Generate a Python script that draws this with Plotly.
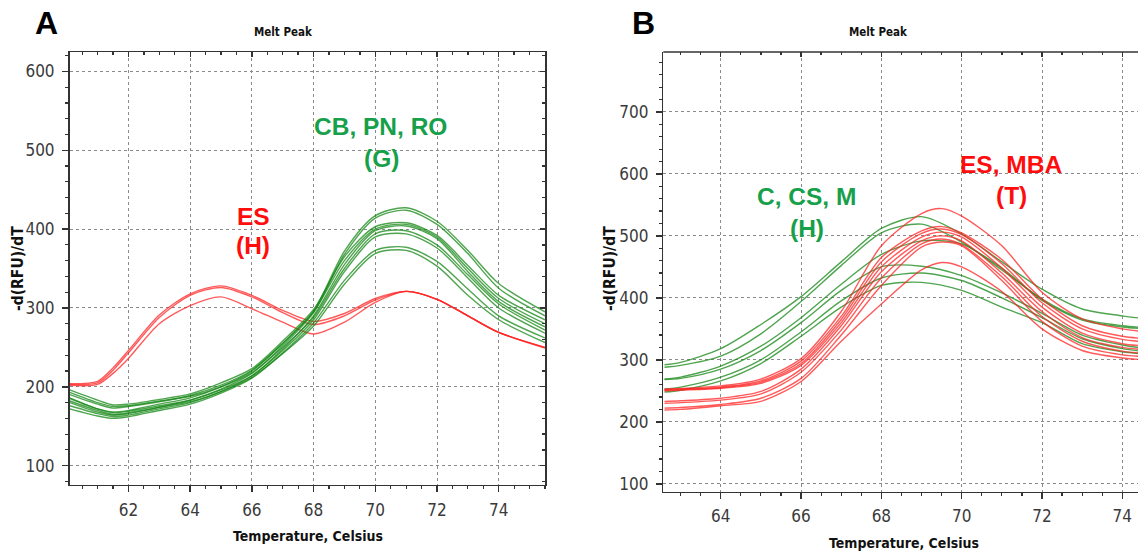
import plotly.graph_objects as go

# ---------------- data ----------------
TEMP_A = [60.1, 61.0, 61.5, 62.0, 63.0, 64.0, 65.0, 66.0, 67.0, 68.0, 69.0, 70.0, 71.0, 72.0, 73.0, 74.0, 75.5]
RED_A = [
    [204, 207, 224, 246, 291, 318, 328, 316, 297, 283, 293, 312, 321, 311, 290, 269, 250],
    [203, 205, 221, 243, 288, 316, 326, 314, 294, 279, 290, 310, 321, 311, 290, 269, 250],
    [202, 203, 217, 236, 280, 303, 314, 299, 282, 267, 282, 307, 321, 311, 290, 269, 249],
]
GREEN_A = [
    [185, 172, 168, 170, 178, 186, 200, 220, 255, 296, 372, 417, 427, 410, 373, 331, 295],
    [180, 168, 164, 166, 174, 183, 197, 217, 252, 294, 368, 414, 424, 406, 369, 325, 290],
    [196, 183, 177, 178, 184, 191, 205, 223, 258, 298, 365, 403, 408, 392, 354, 316, 285],
    [190, 178, 173, 175, 181, 189, 202, 221, 255, 295, 360, 400, 406, 390, 350, 312, 280],
    [176, 166, 162, 164, 172, 180, 194, 214, 248, 290, 355, 398, 404, 388, 346, 308, 276],
    [193, 180, 175, 176, 182, 188, 200, 218, 250, 288, 350, 394, 398, 380, 342, 305, 272],
    [186, 172, 167, 169, 176, 183, 196, 214, 246, 285, 346, 390, 394, 376, 338, 300, 268],
    [172, 163, 160, 162, 170, 178, 192, 211, 243, 281, 335, 373, 377, 359, 324, 290, 262],
    [182, 170, 165, 167, 174, 181, 194, 212, 242, 277, 330, 369, 373, 353, 316, 285, 256],
]

TEMP_B_GREEN = [62.6, 63.0, 64.0, 65.0, 66.0, 67.0, 68.0, 69.0, 70.0, 71.0, 72.0, 73.0, 74.0, 74.6]
GREEN_B = [
    [292, 296, 318, 357, 402, 458, 512, 531, 503, 458, 414, 382, 371, 366],
    [288, 291, 306, 342, 394, 452, 505, 519, 490, 445, 398, 366, 355, 352],
    [269, 272, 290, 322, 368, 422, 470, 492, 487, 448, 396, 364, 353, 350],
    [268, 270, 285, 315, 360, 412, 450, 451, 436, 408, 375, 340, 324, 318],
    [253, 256, 272, 300, 345, 395, 432, 440, 428, 400, 368, 334, 318, 313],
    [248, 251, 266, 294, 338, 385, 420, 425, 412, 385, 360, 326, 313, 309],
]
TEMP_B_RED = [62.6, 63.0, 64.0, 65.0, 66.0, 67.0, 68.0, 69.0, 69.5, 70.0, 71.0, 72.0, 73.0, 74.0, 74.6]
RED_B = [
    [253, 254, 258, 269, 302, 378, 484, 536, 544, 532, 484, 409, 366, 350, 345],
    [252, 253, 256, 266, 298, 370, 465, 508, 515, 505, 462, 398, 355, 338, 334],
    [251, 252, 255, 264, 294, 365, 458, 504, 511, 502, 455, 392, 350, 333, 329],
    [250, 251, 254, 262, 291, 360, 450, 498, 506, 498, 448, 385, 343, 326, 322],
    [233, 234, 238, 249, 285, 355, 442, 492, 500, 492, 440, 378, 336, 320, 316],
    [230, 231, 235, 245, 280, 348, 432, 487, 495, 486, 434, 370, 330, 314, 310],
    [222, 223, 228, 238, 270, 340, 420, 482, 490, 484, 428, 362, 322, 308, 305],
    [219, 220, 226, 233, 265, 330, 390, 445, 457, 450, 410, 350, 315, 303, 300],
]

PANEL_LABELS = ["A", "B"]
TITLE = "Melt Peak"
X_TITLE = "Temperature, Celsius"
Y_TITLE = "-d(RFU)/dT"

# ---------------- style ----------------
W, H = 1138, 558
NARROW = "Liberation Sans Narrow, DejaVu Sans Condensed, Arial Narrow, sans-serif"
ARIAL = "Liberation Sans, Arial, sans-serif"
GREEN_LINE = "rgba(20,135,20,0.75)"
RED_LINE = "rgba(255,35,35,0.75)"
GREEN_TEXT = "#17a04a"
RED_TEXT = "#ff0d0d"
AXIS_COLOR = "#333333"


def px(x):
    return x / W


def py(y):
    return 1 - y / H


fig = go.Figure()

for ys in RED_A:
    fig.add_trace(go.Scatter(x=TEMP_A, y=ys, mode="lines", xaxis="x", yaxis="y",
                             line=dict(color=RED_LINE, width=1.4, shape="spline", smoothing=0.8),
                             showlegend=False, hoverinfo="skip"))
for ys in GREEN_A:
    fig.add_trace(go.Scatter(x=TEMP_A, y=ys, mode="lines", xaxis="x", yaxis="y",
                             line=dict(color=GREEN_LINE, width=1.4, shape="spline", smoothing=0.8),
                             showlegend=False, hoverinfo="skip"))
for ys in GREEN_B:
    fig.add_trace(go.Scatter(x=TEMP_B_GREEN, y=ys, mode="lines", xaxis="x2", yaxis="y2",
                             line=dict(color=GREEN_LINE, width=1.4, shape="spline", smoothing=0.8),
                             showlegend=False, hoverinfo="skip"))
for ys in RED_B:
    fig.add_trace(go.Scatter(x=TEMP_B_RED, y=ys, mode="lines", xaxis="x2", yaxis="y2",
                             line=dict(color=RED_LINE, width=1.4, shape="spline", smoothing=0.8),
                             showlegend=False, hoverinfo="skip"))

tickfont = dict(family=NARROW, size=17, color="#3a3a3a")
grid = dict(showgrid=True, gridcolor="#8a8a8a", gridwidth=1, griddash="dot")


def xaxis_cfg(domain, rng, anchor, mirror):
    return dict(domain=domain, range=rng, anchor=anchor, dtick=2, tick0=0,
                ticks="outside", ticklen=6, tickwidth=1.5, tickcolor=AXIS_COLOR,
                showline=True, linecolor=AXIS_COLOR, linewidth=1.5, mirror=mirror,
                tickfont=tickfont, zeroline=False, ticklabelstandoff=3,
                minor=dict(dtick=0.5, ticks="outside", ticklen=3, tickwidth=1.2,
                           tickcolor=AXIS_COLOR, showgrid=False),
                **grid)


def yaxis_cfg(domain, rng, anchor, mirror):
    return dict(domain=domain, range=rng, anchor=anchor, dtick=100, tick0=0,
                ticks="outside", ticklen=6, tickwidth=1.5, tickcolor=AXIS_COLOR,
                showline=True, linecolor=AXIS_COLOR, linewidth=1.5, mirror=mirror,
                tickfont=tickfont, zeroline=False, ticklabelstandoff=4,
                minor=dict(dtick=20, ticks="outside", ticklen=3, tickwidth=1.2,
                           tickcolor=AXIS_COLOR, showgrid=False),
                **grid)


A_X = [px(69.5), px(545)]
A_Y = [py(486.7), py(52.3)]
B_X = [px(663.3), 1.0]
B_Y = [py(493.3), py(52.3)]
A_XR = [60.09, 75.5]
A_YR = [75.5, 624.5]
B_XR = [62.57, 74.39]
B_YR = [87.5, 796.5]

fig.update_layout(
    width=W, height=H, margin=dict(l=0, r=0, t=0, b=0),
    paper_bgcolor="white", plot_bgcolor="white", showlegend=False,
    xaxis=xaxis_cfg(A_X, A_XR, "y", True),
    yaxis=yaxis_cfg(A_Y, A_YR, "x", True),
    xaxis2=xaxis_cfg(B_X, B_XR, "y2", False),
    yaxis2=yaxis_cfg(B_Y, B_YR, "x2", False),
    # top / right inner tick rows
    xaxis3=dict(overlaying="x", side="top", anchor="y", range=A_XR, dtick=2, tick0=0,
                ticks="inside", ticklen=5, tickwidth=1.3, tickcolor=AXIS_COLOR,
                showticklabels=False, showgrid=False, zeroline=False, showline=False,
                minor=dict(dtick=0.5, ticks="inside", ticklen=3, tickcolor=AXIS_COLOR)),
    yaxis3=dict(overlaying="y", side="right", anchor="x", range=A_YR, dtick=100, tick0=0,
                ticks="inside", ticklen=5, tickwidth=1.3, tickcolor=AXIS_COLOR,
                showticklabels=False, showgrid=False, zeroline=False, showline=False,
                minor=dict(dtick=20, ticks="inside", ticklen=3, tickcolor=AXIS_COLOR)),
    xaxis4=dict(overlaying="x2", side="top", anchor="y2", range=B_XR, dtick=2, tick0=0,
                ticks="inside", ticklen=5, tickwidth=1.3, tickcolor=AXIS_COLOR,
                showticklabels=False, showgrid=False, zeroline=False, showline=False,
                minor=dict(dtick=0.5, ticks="inside", ticklen=3, tickcolor=AXIS_COLOR)),
)

# dummy traces so overlay axes render
fig.add_trace(go.Scatter(x=[None], y=[None], xaxis="x3", yaxis="y3", showlegend=False, hoverinfo="skip"))
fig.add_trace(go.Scatter(x=[None], y=[None], xaxis="x4", yaxis="y2", showlegend=False, hoverinfo="skip"))

# top border line for panel B
fig.add_shape(type="line", xref="paper", yref="paper", x0=B_X[0], x1=1.0, y0=B_Y[1], y1=B_Y[1],
              line=dict(color=AXIS_COLOR, width=1.5))


def note(text, x, y, size, color, family=ARIAL, bold=True, angle=0):
    fig.add_annotation(text=text, x=px(x), y=py(y), xref="paper", yref="paper",
                       showarrow=False, xanchor="center", yanchor="middle", textangle=angle,
                       font=dict(family=family, size=size, color=color,
                                 weight="bold" if bold else "normal"))


# panel letters and titles
note(PANEL_LABELS[0], 46, 23.5, 32, "black")
note(PANEL_LABELS[1], 643, 23.5, 32, "black")
note(TITLE, 283.5, 31.7, 11.5, "#111111", family=NARROW)
note(TITLE, 878.7, 31.7, 11.5, "#111111", family=NARROW)

# axis titles
note(X_TITLE, 307.8, 538.3, 14, "#111111", family=NARROW)
note(X_TITLE, 903.6, 545, 14, "#111111", family=NARROW)
note(Y_TITLE, 18, 270, 15.5, "#111111", family=NARROW, angle=-90)
note(Y_TITLE, 610, 270, 15.5, "#111111", family=NARROW, angle=-90)

# group annotations
note("CB, PN, RO", 380.5, 126.7, 24.5, GREEN_TEXT)
note("(G)", 381, 159, 24.5, GREEN_TEXT)
note("ES", 253, 217, 24.5, RED_TEXT)
note("(H)", 253, 246.5, 24.5, RED_TEXT)
note("C, CS, M", 806, 197.5, 24.5, GREEN_TEXT)
note("(H)", 806.5, 229, 24.5, GREEN_TEXT)
note("ES, MBA", 1011, 165, 24.5, RED_TEXT)
note("(T)", 1011, 196.7, 24.5, RED_TEXT)

# remove the page's default body margin so the figure fills the window exactly
fig.write_html("out.html",
               config={"displayModeBar": False, "staticPlot": True},
               post_script="document.body.style.margin='0';document.body.style.overflow='hidden';")
